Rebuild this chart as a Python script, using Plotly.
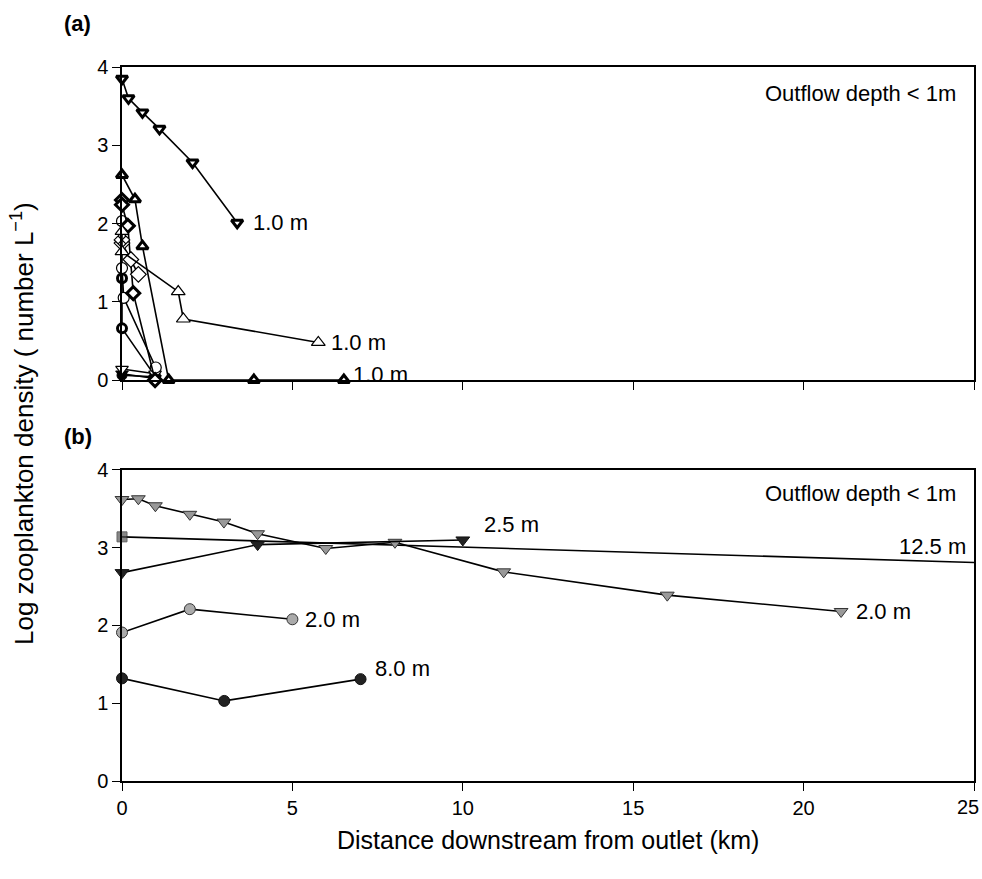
import plotly.graph_objects as go

# ---------------- data: panel (a) ----------------
a_top_x = [0, 0.19, 0.6, 1.1, 2.07, 3.38]
a_top_y = [3.85, 3.60, 3.42, 3.21, 2.78, 2.01]

a_tri_x = [0, 0.38, 0.6, 1.37, 3.87, 6.51]
a_tri_y = [2.62, 2.31, 1.71, 0.0, 0.0, 0.0]

a_open_tri_x = [0, 0, 1.65, 1.8, 5.76]
a_open_tri_y = [1.90, 1.64, 1.13, 0.78, 0.48]

a_open_dia_x = [0, 0.26, 0.48]
a_open_dia_y = [1.75, 1.54, 1.35]

a_hatch_dia_x = [0]
a_hatch_dia_y = [1.79]

a_open_circ_x = [0, 0, 0.05, 0.99]
a_open_circ_y = [2.03, 1.43, 1.05, 0.16]

a_blk_dia_x = [0, 0, 0.17, 0.33, 0.97]
a_blk_dia_y = [2.30, 2.24, 1.97, 1.11, 0.0]

a_blk_circ_x = [0, 0, 0.97]
a_blk_circ_y = [1.30, 0.66, 0.05]

a_open_inv_x = [0, 0.97]
a_open_inv_y = [0.14, 0.08]

a_blk_inv_x = [0, 0.97]
a_blk_inv_y = [0.08, 0.02]

a_solid_circ_x = [0, 0.97]
a_solid_circ_y = [0.06, 0.04]

# ---------------- data: panel (b) ----------------
b_grey_tri_x = [0, 0.48, 0.98, 1.99, 2.99, 3.98, 5.98, 8.01, 11.2, 16.0, 21.1]
b_grey_tri_y = [3.62, 3.63, 3.54, 3.43, 3.33, 3.18, 2.99, 3.07, 2.69, 2.39, 2.18]

b_square_x = [0, 25]
b_square_y = [3.14, 2.81]

b_dark_tri_x = [0, 3.98, 10.0]
b_dark_tri_y = [2.68, 3.04, 3.10]

b_grey_circ_x = [0, 1.99, 5.0]
b_grey_circ_y = [1.91, 2.21, 2.08]

b_dark_circ_x = [0, 3.0, 7.0]
b_dark_circ_y = [1.32, 1.03, 1.31]

x_ticks = [0, 5, 10, 15, 20, 25]
x_tick_text = ["0", "5", "10", "15", "20", "25"]
y_ticks = [0, 1, 2, 3, 4]

FONT = "Liberation Sans, Arial, sans-serif"

fig = go.Figure()


def add(x, y, symbol, fill, line_col, lw, size, xa="x", ya="y", sizes=None):
    fig.add_trace(go.Scatter(
        x=x, y=y, xaxis=xa, yaxis=ya, mode="lines+markers",
        line=dict(color="black", width=1.6),
        marker=dict(symbol=symbol, color=fill, size=sizes if sizes else size,
                    line=dict(color=line_col, width=lw)),
        cliponaxis=False, showlegend=False))


# panel (a) series (top axes x/y)
add(a_blk_circ_x, a_blk_circ_y, "circle", "white", "black", 3, 9)
add(a_solid_circ_x, a_solid_circ_y, "circle", "black", "black", 1, 10)
add(a_blk_inv_x, a_blk_inv_y, "triangle-down", "black", "black", 1, 11)
add(a_open_inv_x, a_open_inv_y, "triangle-down", "white", "black", 1.2, 11)
add(a_open_circ_x, a_open_circ_y, "circle", "white", "black", 1.2, 11)
add(a_blk_dia_x, a_blk_dia_y, "diamond", "white", "black", 3, 10)
add(a_open_dia_x, a_open_dia_y, "diamond", "white", "black", 1.2, 12)
add(a_hatch_dia_x, a_hatch_dia_y, "diamond-x", "white", "black", 1.2, 12)
add(a_open_tri_x, a_open_tri_y, "triangle-up", "white", "black", 1.2, 12)
add(a_tri_x, a_tri_y, "triangle-up", "white", "black", 3, 10)
add(a_top_x, a_top_y, "triangle-down", "white", "black", 3, 10)

# panel (b) series (bottom axes x2/y2)
add(b_square_x, b_square_y, "square", "#555555", "#222222", 1, 10, "x2", "y2", sizes=[10, 0])
add(b_grey_tri_x, b_grey_tri_y, "triangle-down", "#999999", "#333333", 1, 12, "x2", "y2")
add(b_dark_tri_x, b_dark_tri_y, "triangle-down", "#222222", "#111111", 1, 12, "x2", "y2")
add(b_grey_circ_x, b_grey_circ_y, "circle", "#aaaaaa", "#333333", 1, 11, "x2", "y2")
add(b_dark_circ_x, b_dark_circ_y, "circle", "#222222", "#111111", 1, 11, "x2", "y2")

axis_common = dict(
    showline=True, linecolor="black", linewidth=1.5, mirror=True,
    ticks="outside", ticklen=8, tickwidth=1.3, tickcolor="black",
    showgrid=False, zeroline=False, ticklabeloverflow="allow", automargin=False,
    tickfont=dict(family=FONT, size=20, color="black"),
)

fig.update_layout(
    width=982, height=879,
    margin=dict(l=122, r=8, t=67, b=98),
    paper_bgcolor="white", plot_bgcolor="white",
    font=dict(family=FONT, color="black"),
    xaxis=dict(axis_common, range=[0, 25], tickvals=x_ticks, showticklabels=False,
               anchor="y"),
    yaxis=dict(axis_common, range=[0, 4], tickvals=y_ticks, domain=[0.5616, 1.0],
               anchor="x"),
    # last tick label is drawn as an annotation so it stays inside the page
    xaxis2=dict(axis_common, range=[0, 25], tickvals=x_ticks,
                ticktext=x_tick_text[:-1] + [""], anchor="y2"),
    yaxis2=dict(axis_common, range=[0, 4], tickvals=y_ticks, domain=[0.0, 0.4356],
                anchor="x2"),
)

ann_font = dict(family=FONT, size=22, color="black")
lab_font = dict(family=FONT, size=22, color="black")
anns = [
    # panel labels
    dict(text="<b>(a)</b>", xref="paper", yref="paper", x=-0.07, y=1.0, yshift=44,
         xanchor="left", yanchor="middle", showarrow=False, font=lab_font),
    dict(text="<b>(b)</b>", xref="paper", yref="paper", x=-0.07, y=0.4356, yshift=33,
         xanchor="left", yanchor="middle", showarrow=False, font=lab_font),
    dict(text="Outflow depth &lt; 1m", xref="x", yref="y", x=25, y=4, xshift=-16, yshift=-26,
         xanchor="right", yanchor="middle", showarrow=False, font=ann_font),
    dict(text="Outflow depth &lt; 1m", xref="x2", yref="y2", x=25, y=4, xshift=-16, yshift=-24,
         xanchor="right", yanchor="middle", showarrow=False, font=ann_font),
    # panel (a) depth labels
    dict(text="1.0 m", xref="x", yref="y", x=a_top_x[-1], y=a_top_y[-1], xshift=14,
         xanchor="left", yanchor="middle", showarrow=False, font=ann_font),
    dict(text="1.0 m", xref="x", yref="y", x=a_open_tri_x[-1], y=a_open_tri_y[-1], xshift=11,
         xanchor="left", yanchor="middle", showarrow=False, font=ann_font),
    dict(text="1.0 m", xref="x", yref="y", x=a_tri_x[-1], y=a_tri_y[-1], xshift=7, yshift=6,
         xanchor="left", yanchor="middle", showarrow=False, font=ann_font),
    # panel (b) depth labels
    dict(text="2.5 m", xref="x2", yref="y2", x=b_dark_tri_x[-1], y=b_dark_tri_y[-1], xshift=19, yshift=15,
         xanchor="left", yanchor="middle", showarrow=False, font=ann_font),
    dict(text="12.5 m", xref="x2", yref="y2", x=25, y=3.01, xshift=-6,
         xanchor="right", yanchor="middle", showarrow=False, font=ann_font),
    dict(text="2.0 m", xref="x2", yref="y2", x=b_grey_tri_x[-1], y=b_grey_tri_y[-1], xshift=13,
         xanchor="left", yanchor="middle", showarrow=False, font=ann_font),
    dict(text="2.0 m", xref="x2", yref="y2", x=b_grey_circ_x[-1], y=b_grey_circ_y[-1], xshift=11,
         xanchor="left", yanchor="middle", showarrow=False, font=ann_font),
    dict(text="8.0 m", xref="x2", yref="y2", x=b_dark_circ_x[-1], y=b_dark_circ_y[-1], xshift=12, yshift=11,
         xanchor="left", yanchor="middle", showarrow=False, font=ann_font),
    # last x tick label
    dict(text=x_tick_text[-1], xref="x2", yref="y2", x=x_ticks[-1], y=0, xshift=7, yshift=-26,
         xanchor="right", yanchor="middle", showarrow=False,
         font=dict(family=FONT, size=20, color="black")),
    # axis titles
    dict(text="Log zooplankton density ( number L<sup>\u22121</sup>)", xref="paper", yref="paper",
         x=0, xshift=-100, y=0.5, textangle=-90, xanchor="center", yanchor="middle",
         showarrow=False, font=dict(family=FONT, size=26, color="black")),
    dict(text="Distance downstream from outlet (km)", xref="paper", yref="paper",
         x=0.5, y=0, yshift=-59, xanchor="center", yanchor="middle",
         showarrow=False, font=dict(family=FONT, size=25, color="black")),
]
fig.update_layout(annotations=anns)

fig.write_html("out.html",
               config={"displayModeBar": False},
               post_script="document.body.style.margin='0px';document.body.style.overflow='hidden';")
